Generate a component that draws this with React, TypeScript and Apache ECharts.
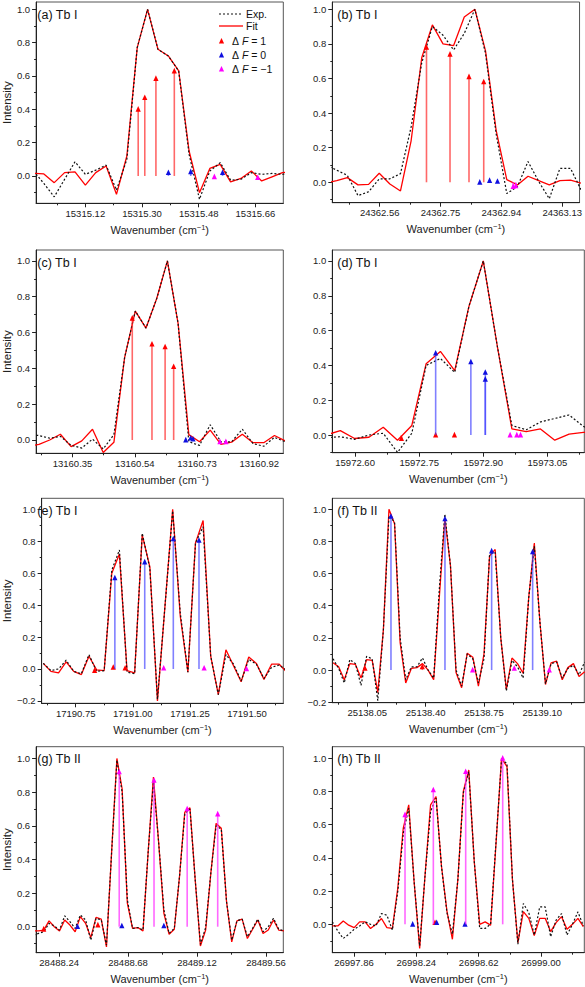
import React, { useEffect, useRef } from 'react';
import * as echarts from 'echarts';

const FONT = '"Liberation Sans", Arial, Helvetica, sans-serif';

// ---------- (a) Tb I ----------
const aX = [15314.9553, 15314.9882, 15315.0212, 15315.0541, 15315.0871, 15315.12, 15315.1529, 15315.1859, 15315.2188, 15315.2518, 15315.2847, 15315.3176, 15315.3506, 15315.3835, 15315.4165, 15315.4494, 15315.4824, 15315.5153, 15315.5482, 15315.5812, 15315.6141, 15315.6471, 15315.68, 15315.7129, 15315.7459, 15315.7788];
const aFit = [0.016, 0.012, -0.04, 0.02, 0.025, -0.055, 0.02, 0.06, -0.11, 0.12, 0.77, 1.0, 0.76, 0.72, 0.63, 0.15, -0.1, 0.045, 0.07, -0.035, -0.015, 0.03, -0.03, -0.005, 0.02, 0.025];
const aExp = [0.03, -0.045, -0.125, -0.02, 0.085, 0.01, 0.035, 0.065, -0.085, 0.1, 0.77, 1.0, 0.76, 0.72, 0.63, 0.13, -0.14, 0.03, 0.08, -0.025, -0.02, 0.02, 0.01, 0.015, 0.01, 0.02];
const aF1 = [[15315.2878, 0.4], [15315.3087, 0.47], [15315.3441, 0.585], [15315.4025, 0.63]];
const aF0 = [[15315.3837, 0.02], [15315.4546, 0.025], [15315.5557, 0.02]];
const aFm1 = [[15315.5297, -0.005], [15315.6673, -0.01]];
const aTicks = [15315.12, 15315.3, 15315.48, 15315.66];
const aMinor = [15315.03, 15315.21, 15315.39, 15315.57];

// ---------- (b) Tb I ----------
const bX = [24362.3925, 24362.4257, 24362.4589, 24362.4921, 24362.5253, 24362.5585, 24362.5917, 24362.6249, 24362.6581, 24362.6913, 24362.7245, 24362.7577, 24362.7909, 24362.8241, 24362.8573, 24362.8905, 24362.9237, 24362.9569, 24362.9901, 24363.0233, 24363.0565, 24363.0897, 24363.1229, 24363.1561, 24363.1893];
const bFit = [-0.005, 0.01, 0.027, -0.015, -0.012, 0.052, -0.01, -0.05, 0.24, 0.72, 0.91, 0.8, 0.79, 0.955, 1.0, 0.76, 0.3, 0.015, -0.015, 0.035, 0.01, -0.015, 0.01, 0.012, -0.005];
const bExp = [0.1, 0.07, 0.04, -0.077, -0.055, 0.02, 0.02, 0.05, 0.32, 0.69, 0.9, 0.85, 0.765, 0.86, 1.0, 0.745, 0.28, -0.065, -0.025, 0.12, 0.005, -0.095, 0.08, 0.08, -0.045];
const bF1 = [[24362.7061, 0.78], [24362.7796, 0.74], [24362.8389, 0.61], [24362.8849, 0.58]];
const bF0 = [[24362.8726, 0.0], [24362.9032, 0.01], [24362.9278, 0.005]];
const bFm1 = [[24362.9768, -0.025], [24362.985, -0.02]];
const bTicks = [24362.56, 24362.75, 24362.94, 24363.13];
const bMinor = [24362.465, 24362.655, 24362.845, 24363.035];

// ---------- (c) Tb I ----------
const cX = [13160.2149, 13160.2476, 13160.2802, 13160.3129, 13160.3456, 13160.3782, 13160.4109, 13160.4436, 13160.4762, 13160.5089, 13160.5415, 13160.5742, 13160.6069, 13160.6395, 13160.6722, 13160.7049, 13160.7375, 13160.7702, 13160.8028, 13160.8355, 13160.8682, 13160.9008, 13160.9335, 13160.9662, 13160.9988];
const cFit = [-0.035, -0.025, 0.0, 0.032, -0.037, -0.005, 0.06, -0.07, -0.013, 0.46, 0.72, 0.625, 0.79, 1.0, 0.65, 0.03, -0.01, 0.055, -0.025, -0.012, 0.032, -0.015, -0.015, 0.025, -0.005];
const cExp = [0.03, 0.025, 0.01, 0.02, -0.03, -0.045, 0.005, -0.05, 0.03, 0.46, 0.72, 0.625, 0.79, 1.0, 0.65, -0.01, -0.03, 0.085, -0.01, -0.01, 0.06, -0.02, -0.035, 0.015, -0.01];
const cF1 = [[13160.5323, 0.68], [13160.5924, 0.535], [13160.6325, 0.52], [13160.6586, 0.41]];
const cF0 = [[13160.6956, 0.0], [13160.7106, 0.01], [13160.7177, 0.005]];
const cFm1 = [[13160.7998, -0.01], [13160.8179, -0.01]];
const cTicks = [13160.35, 13160.54, 13160.73, 13160.92];
const cMinor = [13160.255, 13160.445, 13160.635, 13160.825];

// ---------- (d) Tb I ----------
const dX = [15972.5319, 15972.5654, 15972.5988, 15972.6323, 15972.6658, 15972.6992, 15972.7327, 15972.7662, 15972.7996, 15972.8331, 15972.8665, 15972.9, 15972.9335, 15972.9669, 15973.0004, 15973.0338, 15973.0673, 15973.1008, 15973.1342, 15973.1677];
const dFit = [0.0, 0.025, -0.02, -0.013, 0.045, -0.03, 0.055, 0.41, 0.48, 0.37, 0.74, 1.0, 0.5, 0.035, 0.02, 0.035, -0.03, 0.005, 0.015, 0.02];
const dExp = [-0.015, -0.01, -0.025, 0.0, 0.01, -0.1, 0.01, 0.4, 0.44, 0.36, 0.74, 1.0, 0.5, 0.055, 0.03, 0.075, 0.095, 0.115, 0.05, 0.0];
const dF1 = [[15972.7084, -0.02], [15972.7885, 0.0], [15972.8325, 0.0]];
const dF0 = [[15972.7885, 0.47], [15972.8709, 0.42], [15972.9047, 0.36], [15972.9047, 0.32]];
const dFm1 = [[15972.9628, 0.0], [15972.9785, 0.0], [15972.9872, 0.0]];
const dTicks = [15972.6, 15972.75, 15972.9, 15973.05];
const dMinor = [15972.675, 15972.825, 15972.975, 15973.125];

// ---------- (e) Tb I ----------
const eX = [17190.6083, 17190.6416, 17190.6749, 17190.7082, 17190.7415, 17190.7748, 17190.8081, 17190.8414, 17190.8747, 17190.908, 17190.9413, 17190.9746, 17191.0079, 17191.0412, 17191.0745, 17191.1078, 17191.1411, 17191.1744, 17191.2077, 17191.241, 17191.2743, 17191.3076, 17191.3409, 17191.3742, 17191.4075, 17191.4408, 17191.4741, 17191.5074, 17191.5407, 17191.574, 17191.6073, 17191.6406, 17191.6739];
const eFit = [0.035, -0.015, -0.025, 0.045, -0.015, -0.035, 0.08, -0.005, -0.01, 0.6, 0.72, -0.01, -0.025, 0.84, 0.64, -0.2, 0.4, 1.0, 0.33, -0.02, 0.79, 0.93, 0.08, -0.16, 0.12, 0.02, -0.08, 0.075, 0.035, -0.065, 0.03, 0.03, -0.02];
const eExp = [0.035, -0.01, 0.0, 0.055, -0.015, -0.03, 0.09, -0.015, -0.01, 0.62, 0.745, -0.02, -0.03, 0.85, 0.63, -0.19, 0.4, 0.99, 0.35, -0.02, 0.79, 0.89, 0.08, -0.16, 0.09, 0.03, -0.075, 0.06, 0.03, -0.06, 0.01, 0.025, -0.01];
const eF1 = [[17190.8329, -0.01], [17190.9144, 0.01], [17190.9664, 0.005]];
const eF0 = [[17190.9214, 0.57], [17191.0521, 0.67], [17191.1772, 0.815], [17191.2896, 0.805]];
const eFm1 = [[17191.1351, 0.005], [17191.3121, 0.005], [17191.4976, 0.0]];
const eTicks = [17190.75, 17191.0, 17191.25, 17191.5];
const eMinor = [17190.625, 17190.875, 17191.125, 17191.375, 17191.625];

// ---------- (f) Tb II ----------
const fX = [25137.8446, 25137.8781, 25137.9117, 25137.9452, 25137.9788, 25138.0123, 25138.0458, 25138.0794, 25138.1129, 25138.1465, 25138.18, 25138.2135, 25138.2471, 25138.2806, 25138.3142, 25138.3477, 25138.3812, 25138.4148, 25138.4483, 25138.4819, 25138.5154, 25138.5489, 25138.5825, 25138.616, 25138.6496, 25138.6831, 25138.7166, 25138.7502, 25138.7837, 25138.8173, 25138.8508, 25138.8843, 25138.9179, 25138.9514, 25138.985, 25139.0185, 25139.052, 25139.0856, 25139.1191, 25139.1527, 25139.1862, 25139.2197, 25139.2533, 25139.2868, 25139.3204, 25139.3539];
const fFit = [0.045, 0.02, -0.06, 0.04, 0.035, -0.05, 0.065, 0.06, -0.14, 0.25, 1.0, 0.91, 0.17, -0.08, 0.01, 0.015, 0.04, 0.0, -0.06, 0.45, 0.945, 0.65, -0.015, -0.11, 0.105, 0.08, -0.1, 0.1, 0.71, 0.75, 0.2, -0.12, 0.075, 0.04, -0.02, 0.45, 0.79, 0.3, -0.09, 0.045, 0.055, -0.06, 0.015, 0.04, -0.04, -0.01];
const fExp = [0.07, 0.01, -0.08, 0.065, 0.04, -0.095, 0.085, 0.07, -0.19, 0.25, 0.96, 0.92, 0.2, -0.06, 0.02, 0.02, 0.075, 0.0, -0.05, 0.5, 0.97, 0.65, 0.0, -0.1, 0.1, 0.07, -0.08, 0.07, 0.72, 0.73, 0.2, -0.13, 0.06, 0.02, -0.05, 0.45, 0.77, 0.3, -0.085, 0.04, 0.05, -0.05, 0.01, 0.03, -0.03, 0.05];
const fF1 = [[25138.036, 0.01], [25138.38, 0.02]];
const fF0 = [[25138.192, 0.955], [25138.516, 0.94], [25138.796, 0.74], [25139.042, 0.735]];
const fFm1 = [[25138.682, 0.0], [25138.932, 0.01], [25139.142, 0.0]];
const fTicks = [25138.05, 25138.4, 25138.75, 25139.1];
const fMinor = [25137.875, 25138.225, 25138.575, 25138.925, 25139.275];

// ---------- (g) Tb II ----------
const gX = [28488.0757, 28488.109, 28488.1423, 28488.1756, 28488.2089, 28488.2422, 28488.2755, 28488.3088, 28488.3422, 28488.3755, 28488.4088, 28488.4421, 28488.4754, 28488.5087, 28488.542, 28488.5753, 28488.6086, 28488.6419, 28488.6752, 28488.7085, 28488.7419, 28488.7752, 28488.8085, 28488.8418, 28488.8751, 28488.9084, 28488.9417, 28488.975, 28489.0083, 28489.0416, 28489.0749, 28489.1082, 28489.1416, 28489.1749, 28489.2082, 28489.2415, 28489.2748, 28489.3081, 28489.3414, 28489.3747, 28489.408, 28489.4413, 28489.4746, 28489.5079, 28489.5413, 28489.5746, 28489.6079, 28489.6412, 28489.6745];
const gFit = [-0.025, -0.025, -0.02, 0.035, 0.0, -0.025, 0.04, 0.01, -0.03, 0.06, 0.02, -0.065, 0.055, 0.045, -0.12, 0.45, 1.0, 0.82, 0.14, -0.01, -0.005, -0.025, 0.45, 0.89, 0.5, 0.08, -0.045, -0.015, 0.3, 0.68, 0.707, 0.28, -0.115, -0.02, 0.32, 0.614, 0.585, 0.15, -0.09, 0.035, 0.045, -0.07, -0.015, 0.04, -0.04, -0.02, 0.04, -0.02, -0.025];
const gExp = [-0.05, -0.04, -0.03, 0.02, 0.005, -0.02, 0.065, 0.03, -0.01, 0.07, 0.04, -0.08, 0.05, 0.04, -0.11, 0.45, 0.99, 0.8, 0.16, -0.01, -0.005, -0.02, 0.45, 0.86, 0.5, 0.1, -0.04, -0.01, 0.3, 0.67, 0.7, 0.28, -0.105, -0.005, 0.32, 0.6, 0.58, 0.15, -0.08, 0.035, 0.045, -0.06, -0.01, 0.045, -0.03, 0.0, 0.05, -0.015, -0.025];
const gF1 = [[28488.1415, -0.015], [28488.4872, 0.01]];
const gF0 = [[28488.3573, 0.0], [28488.6402, 0.005], [28488.9083, 0.005]];
const gFm1 = [[28488.6234, 0.92], [28488.8455, 0.87], [28489.0571, 0.7], [28489.2519, 0.67]];
const gTicks = [28488.24, 28488.68, 28489.12, 28489.56];
const gMinor = [28488.46, 28488.9, 28489.34];

// ---------- (h) Tb II ----------
const hX = [26997.7279, 26997.7612, 26997.7945, 26997.8277, 26997.861, 26997.8943, 26997.9275, 26997.9608, 26997.9941, 26998.0274, 26998.0606, 26998.0939, 26998.1272, 26998.1604, 26998.1937, 26998.227, 26998.2603, 26998.2935, 26998.3268, 26998.3601, 26998.3933, 26998.4266, 26998.4599, 26998.4932, 26998.5264, 26998.5597, 26998.593, 26998.6262, 26998.6595, 26998.6928, 26998.726, 26998.7593, 26998.7926, 26998.8259, 26998.8591, 26998.8924, 26998.9257, 26998.9589, 26998.9922, 26999.0255, 26999.0588, 26999.092, 26999.1253, 26999.1586, 26999.1918, 26999.2251, 26999.2584];
const hFit = [-0.01, -0.01, 0.02, -0.005, -0.02, 0.015, 0.015, -0.025, 0.0, 0.035, -0.02, -0.025, 0.22, 0.58, 0.72, 0.25, -0.145, 0.3, 0.72, 0.77, 0.35, 0.08, -0.09, 0.27, 0.8, 0.93, 0.38, 0.0, 0.015, -0.005, 0.49, 1.0, 0.95, 0.27, -0.11, 0.076, 0.036, -0.068, 0.036, 0.036, -0.044, 0.01, 0.046, -0.03, 0.0, 0.036, -0.014];
const hExp = [0.015, -0.04, -0.085, -0.06, -0.03, -0.01, 0.015, 0.0, -0.01, 0.065, 0.055, -0.035, 0.2, 0.55, 0.7, 0.25, -0.13, 0.3, 0.68, 0.76, 0.35, 0.07, -0.06, 0.27, 0.79, 0.92, 0.38, -0.025, -0.025, 0.0, 0.5, 0.99, 0.97, 0.27, -0.12, 0.125, 0.07, -0.065, 0.105, 0.105, -0.075, 0.025, 0.065, -0.065, 0.0, 0.075, -0.01];
const hF1 = [[26998.3539, 0.01]];
const hF0 = [[26998.2177, 0.0], [26998.3641, 0.01], [26998.5368, 0.0]];
const hFm1 = [[26998.171, 0.66], [26998.3437, 0.81], [26998.5409, 0.92], [26998.7665, 1.0]];
const hTicks = [26997.86, 26998.24, 26998.62, 26999.0];
const hMinor = [26998.05, 26998.43, 26998.81, 26999.19];

const yMajor = [-0.2, 0, 0.2, 0.4, 0.6, 0.8, 1.0];
const yMinor = [-0.1, 0.1, 0.3, 0.5, 0.7, 0.9];

const legendLabels = ['Exp.', 'Fit', '1', '0', '−1'];

type Panel = {
  label: string; x: number[]; exp: number[]; fit: number[];
  f1: number[][]; f0: number[][]; fm1: number[][];
  ticks: number[]; minor: number[];
  xr: [number, number]; yr: [number, number];
  box: [number, number, number, number]; left: boolean;
};

const C1 = 32.3, C2 = 332.3, W1 = 251, W2 = 252;
const panels: Panel[] = [
  { label: '(a) Tb I', x: aX, exp: aExp, fit: aFit, f1: aF1, f0: aF0, fm1: aFm1, ticks: aTicks, minor: aMinor, xr: [15314.9636, 15315.7486], yr: [-0.164, 1.044], box: [C1, 2, W1, 201.3], left: true },
  { label: '(b) Tb I', x: bX, exp: bExp, fit: bFit, f1: bF1, f0: bF0, fm1: bFm1, ticks: bTicks, minor: bMinor, xr: [24362.4119, 24363.1842], yr: [-0.118, 1.042], box: [C2, 2, W2, 200.7], left: false },
  { label: '(c) Tb I', x: cX, exp: cExp, fit: cFit, f1: cF1, f0: cF0, fm1: cFm1, ticks: cTicks, minor: cMinor, xr: [13160.2388, 13160.9932], yr: [-0.0743, 1.061], box: [C1, 250, W1, 203.3], left: true },
  { label: '(d) Tb I', x: dX, exp: dExp, fit: dFit, f1: dF1, f0: dF0, fm1: dFm1, ticks: dTicks, minor: dMinor, xr: [15972.5466, 15973.1364], yr: [-0.1017, 1.063], box: [C2, 250, W2, 202.7], left: false },
  { label: '(e) Tb I', x: eX, exp: eExp, fit: eFit, f1: eF1, f0: eF0, fm1: eFm1, ticks: eTicks, minor: eMinor, xr: [17190.601, 17191.6586], yr: [-0.215, 1.069], box: [C1, 498.3, W1, 205], left: true },
  { label: '(f) Tb II', x: fX, exp: fExp, fit: fFit, f1: fF1, f0: fF0, fm1: fFm1, ticks: fTicks, minor: fMinor, xr: [25137.84, 25139.352], yr: [-0.203, 1.068], box: [C2, 498.3, W2, 204.4], left: false },
  { label: '(g) Tb II', x: gX, exp: gExp, fit: gFit, f1: gF1, f0: gF0, fm1: gFm1, ticks: gTicks, minor: gMinor, xr: [28488.093, 28489.6705], yr: [-0.1545, 1.07], box: [C1, 746.7, W1, 206], left: true },
  { label: '(h) Tb II', x: hX, exp: hExp, fit: hFit, f1: hF1, f0: hF0, fm1: hFm1, ticks: hTicks, minor: hMinor, xr: [26997.7277, 26999.264], yr: [-0.171, 1.07], box: [C2, 746.7, W2, 206], left: false },
];

const RED = '#ff0000', BLUE = '#1010e0', MAG = '#ff00ff';
const STEM_RED = 'rgba(255,40,40,0.7)', STEM_BLUE = 'rgba(60,60,255,0.65)', STEM_MAG = 'rgba(255,40,255,0.7)';

const stick = (fill: string, stem: string) => (_params: any, api: any) => {
  const x = api.value(0);
  const y = api.value(1);
  const base = api.coord([x, 0]);
  const tip = api.coord([x, y]);
  const w = 2.6;
  return {
    type: 'group',
    children: [
      { type: 'line', shape: { x1: base[0], y1: base[1], x2: tip[0], y2: tip[1] }, style: { stroke: stem, lineWidth: 1.6 } },
      { type: 'polygon', shape: { points: [[tip[0], tip[1] - 3.2], [tip[0] - w, tip[1] + 2.4], [tip[0] + w, tip[1] + 2.4]] }, style: { fill } },
    ],
  };
};

export default function App() {
  const ref = useRef<HTMLDivElement>(null);
  useEffect(() => {
    if (!ref.current) return;
    const chart = echarts.init(ref.current, null, { renderer: 'svg' });
    const grid: any[] = [];
    const xAxis: any[] = [];
    const yAxis: any[] = [];
    const series: any[] = [];
    const graphic: any[] = [];
    const axisColor = '#222';
    panels.forEach((p, i) => {
      const [l, t, w, h] = p.box;
      grid.push({ left: l, top: t, width: w, height: h, show: true, borderColor: '#555', borderWidth: 1, backgroundColor: 'transparent' });
      const inR = (v: number, r: [number, number]) => v >= r[0] && v <= r[1];
      xAxis.push({
        type: 'value', gridIndex: i, min: p.xr[0], max: p.xr[1], position: 'bottom',
        axisLine: { show: true, onZero: false, lineStyle: { color: axisColor, width: 1 } },
        axisTick: { show: true, customValues: p.ticks, length: 4, lineStyle: { color: axisColor } },
        axisLabel: { show: true, customValues: p.ticks, formatter: (v: number) => v.toFixed(2), fontSize: 9.5, color: '#222', margin: 5, fontFamily: FONT },
        splitLine: { show: false },
        name: '{a|Wavenumber (cm}{s|−1}{a|)}', nameLocation: 'middle', nameGap: 20,
        nameTextStyle: {
          fontFamily: FONT, fontSize: 11, color: '#222',
          rich: {
            a: { fontFamily: FONT, fontSize: 11, color: '#222', lineHeight: 13 },
            s: { fontFamily: FONT, fontSize: 7.5, color: '#222', verticalAlign: 'top', lineHeight: 13 },
          },
        },
      });
      xAxis.push({
        type: 'value', gridIndex: i, min: p.xr[0], max: p.xr[1], position: 'bottom',
        axisLine: { show: false, onZero: false },
        axisTick: { show: true, customValues: p.minor.filter((v) => inR(v, p.xr)), length: 2, lineStyle: { color: axisColor } },
        axisLabel: { show: false }, splitLine: { show: false },
      });
      const ym = yMajor.filter((v) => inR(v, p.yr));
      const yn = yMinor.filter((v) => inR(v, p.yr));
      yAxis.push({
        type: 'value', gridIndex: i, min: p.yr[0], max: p.yr[1], position: 'left',
        axisLine: { show: true, onZero: false, lineStyle: { color: axisColor, width: 1 } },
        axisTick: { show: true, customValues: ym, length: 4, lineStyle: { color: axisColor } },
        axisLabel: { show: true, customValues: ym, formatter: (v: number) => (v < -1e-9 ? '−' : '') + Math.abs(v).toFixed(1), fontSize: 9.5, color: '#222', margin: 6, fontFamily: FONT },
        splitLine: { show: false },
        name: p.left ? 'Intensity' : '', nameLocation: 'middle', nameGap: 20,
        nameTextStyle: { fontFamily: FONT, fontSize: 11.5, color: '#222' },
      });
      yAxis.push({
        type: 'value', gridIndex: i, min: p.yr[0], max: p.yr[1], position: 'left',
        axisLine: { show: false, onZero: false },
        axisTick: { show: true, customValues: yn, length: 2, lineStyle: { color: axisColor } },
        axisLabel: { show: false }, splitLine: { show: false },
      });
      const xi = 2 * i;
      series.push({
        type: 'line', name: 'Fit', xAxisIndex: xi, yAxisIndex: xi,
        data: p.x.map((x, k) => [x, p.fit[k]]), showSymbol: false, symbol: 'none', silent: true,
        lineStyle: { color: RED, width: 1.3 }, itemStyle: { color: RED }, clip: true,
      });
      series.push({
        type: 'line', name: 'Exp.', xAxisIndex: xi, yAxisIndex: xi,
        data: p.x.map((x, k) => [x, p.exp[k]]), showSymbol: false, symbol: 'none', silent: true,
        lineStyle: { color: '#111', width: 1.2, type: [2, 2] }, itemStyle: { color: '#111' }, clip: true,
      });
      const groups: [string, number[][], string, string][] = [
        ['ΔF = 1', p.f1, RED, STEM_RED],
        ['ΔF = 0', p.f0, BLUE, STEM_BLUE],
        ['ΔF = −1', p.fm1, MAG, STEM_MAG],
      ];
      groups.forEach(([name, data, fill, stem]) => {
        series.push({
          type: 'custom', name, xAxisIndex: xi, yAxisIndex: xi, data, silent: true,
          encode: { x: 0, y: 1 }, itemStyle: { color: fill }, renderItem: stick(fill, stem), z: 5,
        });
      });
      graphic.push({
        type: 'text', x: l + 5, y: t + 12.5,
        style: { text: p.label, fontFamily: FONT, fontSize: 12.5, fill: '#111', align: 'left', verticalAlign: 'middle' },
      });
    });

    // legend inside panel (a)
    const lx = 219, ly = [14, 26, 41, 55, 69];
    graphic.push({ type: 'line', shape: { x1: lx, y1: ly[0], x2: lx + 24, y2: ly[0] }, style: { stroke: '#111', lineWidth: 1.2, lineDash: [2, 2] } });
    graphic.push({ type: 'line', shape: { x1: lx, y1: ly[1], x2: lx + 24, y2: ly[1] }, style: { stroke: RED, lineWidth: 1.3 } });
    [0, 1].forEach((k) => {
      graphic.push({ type: 'text', x: lx + 27, y: ly[k], style: { text: legendLabels[k], fontFamily: FONT, fontSize: 10.5, fill: '#111', align: 'left', verticalAlign: 'middle' } });
    });
    const triCols = [RED, BLUE, MAG];
    [2, 3, 4].forEach((k, j) => {
      const cx = lx + 2.5, cy = ly[k];
      graphic.push({ type: 'polygon', shape: { points: [[cx, cy - 3], [cx - 2.6, cy + 2.4], [cx + 2.6, cy + 2.4]] }, style: { fill: triCols[j] } });
      graphic.push({
        type: 'text', x: lx + 13, y: cy,
        style: {
          text: '{n|Δ }{i|F}{n| = ' + legendLabels[k] + '}',
          fontFamily: FONT, fontSize: 10.5, fill: '#111', align: 'left', verticalAlign: 'middle',
          rich: {
            n: { fontFamily: FONT, fontSize: 10.5, fill: '#111' },
            i: { fontFamily: FONT, fontSize: 10.5, fill: '#111', fontStyle: 'italic' },
          },
        },
      });
    });

    chart.setOption({
      animation: false,
      textStyle: { fontFamily: FONT },
      grid, xAxis, yAxis, series, graphic,
    });
    return () => chart.dispose();
  }, []);
  return <div ref={ref} style={{ position: 'absolute', left: 0, top: 0, width: 585, height: 987, background: '#fff' }} />;
}
